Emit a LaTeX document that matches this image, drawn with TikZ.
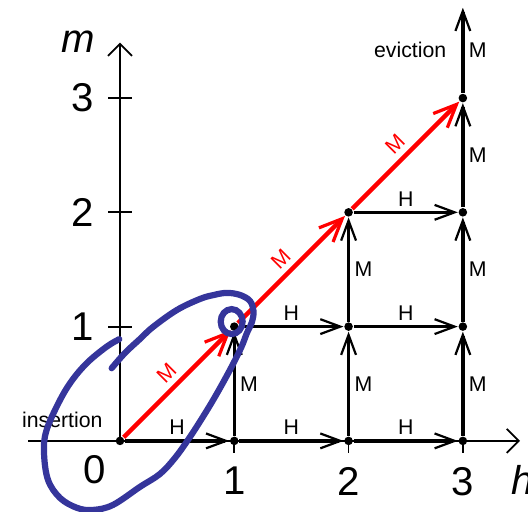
\documentclass[tikz,border=0pt]{standalone}
\usepackage{fontspec}
\setmainfont{Liberation Sans}
\usepackage{tikz}
\usetikzlibrary{arrows.meta,positioning,calc}
\definecolor{missred}{HTML}{FF0000}
\definecolor{penblue}{HTML}{35359B}
\definecolor{ink}{HTML}{000000}

\begin{document}
\begin{tikzpicture}[
  font=\fontsize{10}{12}\selectfont,
  line cap=butt,line join=miter,
  dot/.style={circle,fill=ink,inner sep=0pt,minimum size=.75mm},
  axis/.style={line width=.45pt,draw=ink,-{Straight Barb[length=1.05mm,width=2.1mm]}},
  tickmark/.style={line width=.45pt,draw=ink},
  hitarrow/.style={line width=.85pt,draw=ink,-{Straight Barb[length=1.75mm,width=1.3mm,line width=.55pt]}},
  missarrow/.style={hitarrow},
  redmiss/.style={line width=1.1pt,draw=missred,-{Straight Barb[length=2mm,width=1.75mm,line width=.8pt]}},
  lab/.style={font=\fontsize{5.3}{6}\selectfont,inner sep=.37mm},
  axislab/.style={font=\itshape\fontsize{10}{12}\selectfont}
]
\useasboundingbox (-1.05,-0.621) rectangle (3.570,3.858);
% axes
\coordinate (hstart) at (-0.805,0);
\coordinate (hend) at (3.5,0);
\coordinate (mend) at (0,3.485);
\draw[axis] (hstart) -- (hend);
\draw[axis] (0,0) -- (mend);
% states
\node[dot] (n00) at (0,0) {};
\node[dot] (n10) at (1,0) {};
\node[dot] (n20) at (2,0) {};
\node[dot] (n30) at (3,0) {};
\node[dot] (n11) at (1,1) {};
\node[dot] (n21) at (2,1) {};
\node[dot] (n31) at (3,1) {};
\node[dot] (n22) at (2,2) {};
\node[dot] (n32) at (3,2) {};
\node[dot] (n33) at (3,3) {};
% tick labels
\node (xl0) at (-0.219,-0.254) {0};
\node[below] (xl1) at (1,-0.105) {1};
\node[below] (xl2) at (2,-0.105) {2};
\node[below] (xl3) at (3,-0.105) {3};
\node[left] (yl1) at (-0.105,1) {1};
\node[left] (yl2) at (-0.105,2) {2};
\node[left] (yl3) at (-0.105,3) {3};
\draw[tickmark] (n10.center) -- (xl1.north);
\draw[tickmark] (n20.center) -- (xl2.north);
\draw[tickmark] (n30.center) -- (xl3.north);
\draw[tickmark] (yl1.east) -- ++(0.21,0);
\draw[tickmark] (yl2.east) -- ++(0.21,0);
\draw[tickmark] (yl3.east) -- ++(0.21,0);
\node[axislab,anchor=base] (maxis) at (-0.367,3.395) {m};
\node[axislab,anchor=base west,inner sep=0pt] (haxis) at (3.42,-0.472) {h};
% hits
\draw[hitarrow] (n00) -- node[lab,above]{H} (n10);
\draw[hitarrow] (n10) -- node[lab,above]{H} (n20);
\draw[hitarrow] (n20) -- node[lab,above]{H} (n30);
\draw[hitarrow] (n11) -- node[lab,above]{H} (n21);
\draw[hitarrow] (n21) -- node[lab,above]{H} (n31);
\draw[hitarrow] (n22) -- node[lab,above]{H} (n32);
% misses
\draw[missarrow] (n10) -- node[lab,right]{M} (n11);
\draw[missarrow] (n20) -- node[lab,right]{M} (n21);
\draw[missarrow] (n21) -- node[lab,right]{M} (n22);
\draw[missarrow] (n30) -- node[lab,right]{M} (n31);
\draw[missarrow] (n31) -- node[lab,right]{M} (n32);
\draw[missarrow] (n32) -- node[lab,right]{M} (n33);
\coordinate (evict) at (3,3.79);
\draw[missarrow] (n33) -- node[lab,right]{M} node[lab,left,inner sep=1.3mm]{eviction} (evict);
\draw[redmiss] (n00) -- node[lab,above,sloped,text=missred,inner sep=.5mm]{M} (n11);
\draw[redmiss] (n11) -- node[lab,above,sloped,text=missred,inner sep=.5mm]{M} (n22);
\draw[redmiss] (n22) -- node[lab,above,sloped,text=missred,inner sep=.5mm]{M} (n33);
\node[lab,anchor=base east,inner sep=0pt] (insert) at (-0.146,0.114) {insertion};
% pen marks
\draw[penblue,line width=1.55pt,line cap=round,line join=round]
  plot[smooth,tension=0.6] coordinates{(-0.073,0.636) (0.044,0.770) (0.175,0.892)
  (0.289,0.997) (0.499,1.146) (0.700,1.242) (0.822,1.277) (0.936,1.295)
  (1.050,1.277) (1.137,1.225) (1.168,1.137) (1.155,1.041) (1.111,0.945)
  (1.059,0.814) (0.962,0.621) (0.831,0.385) (0.709,0.184) (0.595,0.009)
  (0.481,-0.149) (0.350,-0.289) (0.175,-0.402) (-0.061,-0.560) (-0.236,-0.604)
  (-0.376,-0.586) (-0.525,-0.499) (-0.630,-0.341) (-0.665,-0.105) (-0.647,0.079)
  (-0.554,0.300) (-0.437,0.505) (-0.291,0.680) (-0.116,0.825) (-0.006,0.890)};
\draw[penblue,line width=1.55pt] (0.977,1.044) ellipse (0.096 and 0.109);
\end{tikzpicture}
\end{document}
